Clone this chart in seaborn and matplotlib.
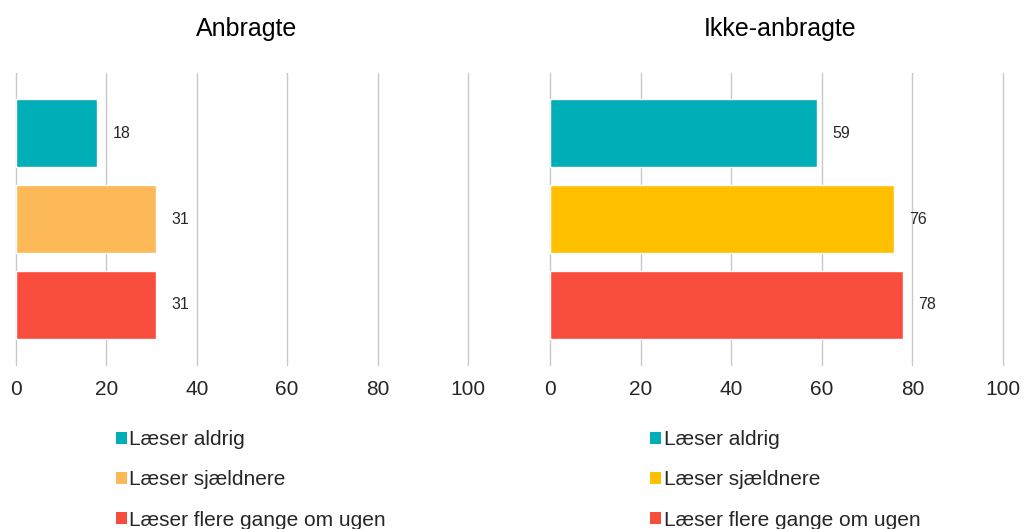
import matplotlib
matplotlib.use("Agg")
import matplotlib.pyplot as plt
import seaborn as sns
import pandas as pd
from matplotlib.patches import Patch

categories = ["Læser aldrig", "Læser sjældnere", "Læser flere gange om ugen"]
anbragte = [18, 31, 31]
ikke_anbragte = [59, 76, 78]
ticks = [0, 20, 40, 60, 80, 100]

colors_left = ["#00AEB8", "#FDB857", "#F84C3C"]
colors_right = ["#00AEB8", "#FFC000", "#F84C3C"]

sns.set_style("white")
plt.rcParams["font.family"] = ["Liberation Sans", "DejaVu Sans"]

fig = plt.figure(figsize=(10.26, 5.29), dpi=100)
ax1 = fig.add_axes([0.0156, 0.310, 0.4405, 0.552])
ax2 = fig.add_axes([0.536, 0.310, 0.4415, 0.552])


def draw(ax, values, colors, title, legend_x):
    df = pd.DataFrame({"cat": categories, "val": values})
    sns.barplot(data=df, x="val", y="cat", hue="cat", palette=colors,
                orient="h", width=0.8, legend=False, ax=ax, saturation=1)
    for cont in ax.containers:
        ax.bar_label(cont, padding=11, fontsize=11.5, color="#262626")
    ax.set_xlim(0, 100)
    ax.set_ylim(2.7, -0.7)
    ax.set_xticks(ticks)
    ax.set_xticklabels([str(t) for t in ticks], fontsize=15, color="#262626")
    ax.set_yticks([])
    ax.set_xlabel("")
    ax.set_ylabel("")
    ax.tick_params(axis="x", length=0, pad=11)
    for s in ax.spines.values():
        s.set_visible(False)
    ax.grid(axis="x", color="#C8C8C8", linewidth=1)
    for gl in ax.get_xgridlines():
        gl.set_clip_on(False)
    ax.set_axisbelow(True)
    pos = ax.get_position()
    fig.text(pos.x0 + pos.width / 2 + 0.004, 0.946, title, ha="center",
             va="center", fontsize=18, color="#000000")
    handles = [Patch(facecolor=c, edgecolor="none") for c in colors]
    fig.legend(handles, categories, loc="upper left",
               bbox_to_anchor=(legend_x, 0.187), frameon=False,
               fontsize=15, handlelength=0.52, handleheight=0.52,
               handletextpad=0.12, labelspacing=1.02, borderpad=0,
               borderaxespad=0)


draw(ax1, anbragte, colors_left, "Anbragte", 0.113)
draw(ax2, ikke_anbragte, colors_right, "Ikke-anbragte", 0.634)

fig.savefig("out.png", dpi=100)
